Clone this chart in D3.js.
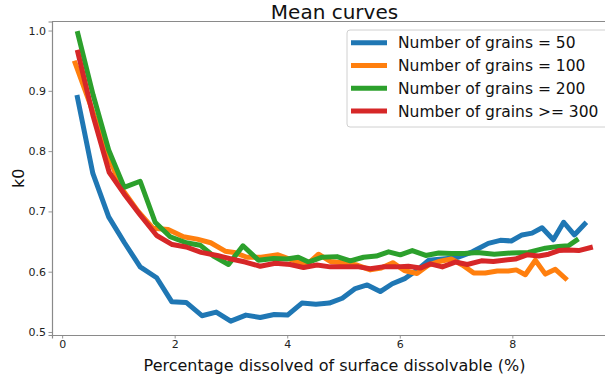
<!DOCTYPE html>
<html>
<head>
<meta charset="utf-8">
<script src="https://cdn.jsdelivr.net/npm/d3@7"></script>
<style>
  html, body { margin: 0; padding: 0; background: #fff; }
  svg { display: block; font-family: "DejaVu Sans", sans-serif; }
</style>
</head>
<body>
<svg id="chart" width="605" height="377"></svg>
<script>
// Percentage dissolved (x) and mean k0 (y) for each grain-count group
const pct50 = [0.272,0.546,0.827,1.108,1.387,1.680,1.950,2.204,2.484,2.738,2.996,3.266,3.520,3.769,4.005,4.261,4.510,4.747,4.978,5.209,5.422,5.653,5.867,6.098,6.311,6.516,6.756,7.004,7.289,7.573,7.787,7.982,8.172,8.350,8.528,8.729,8.912,9.102,9.285];
const k50   = [0.889,0.763,0.691,0.648,0.608,0.590,0.550,0.549,0.527,0.533,0.518,0.528,0.524,0.529,0.528,0.548,0.546,0.548,0.556,0.572,0.578,0.567,0.580,0.589,0.603,0.619,0.621,0.623,0.633,0.647,0.652,0.651,0.661,0.664,0.673,0.653,0.682,0.661,0.679];

const pct100 = [0.231,0.498,0.782,1.067,1.351,1.618,1.884,2.156,2.400,2.640,2.898,3.058,3.284,3.538,3.836,4.098,4.338,4.556,4.764,4.987,5.239,5.476,5.671,5.876,6.080,6.306,6.512,6.702,6.916,7.111,7.312,7.520,7.733,7.929,8.071,8.231,8.409,8.587,8.764,8.942];
const k100   = [0.946,0.878,0.800,0.737,0.700,0.672,0.670,0.658,0.654,0.648,0.634,0.632,0.624,0.624,0.628,0.619,0.611,0.629,0.617,0.615,0.611,0.603,0.606,0.615,0.602,0.597,0.611,0.617,0.621,0.611,0.598,0.598,0.601,0.601,0.603,0.595,0.619,0.596,0.604,0.589];

const pct200 = [0.279,0.551,0.827,1.102,1.387,1.653,1.920,2.204,2.453,2.690,2.956,3.213,3.490,3.756,3.995,4.196,4.379,4.622,4.884,5.120,5.356,5.582,5.801,6.009,6.222,6.462,6.693,6.916,7.147,7.378,7.680,7.982,8.284,8.587,8.818,8.996,9.138];
const k200   = [0.995,0.893,0.802,0.740,0.750,0.682,0.658,0.648,0.644,0.626,0.612,0.643,0.619,0.622,0.621,0.624,0.616,0.624,0.625,0.618,0.624,0.626,0.633,0.628,0.635,0.627,0.631,0.630,0.630,0.632,0.629,0.631,0.632,0.639,0.642,0.643,0.652];

const pct300 = [0.279,0.551,0.836,1.102,1.387,1.680,1.956,2.204,2.471,2.756,3.004,3.253,3.520,3.787,4.053,4.290,4.528,4.764,5.031,5.268,5.476,5.698,5.938,6.151,6.364,6.542,6.756,6.987,7.200,7.449,7.662,7.845,8.053,8.261,8.468,8.645,8.823,9.001,9.179,9.387];
const k300   = [0.964,0.858,0.765,0.729,0.694,0.660,0.645,0.641,0.632,0.627,0.621,0.616,0.609,0.614,0.612,0.607,0.611,0.608,0.608,0.608,0.605,0.608,0.608,0.609,0.606,0.613,0.608,0.616,0.612,0.618,0.617,0.619,0.621,0.628,0.626,0.629,0.635,0.636,0.635,0.640];

const seriesNames  = ["Number of grains = 50", "Number of grains = 100", "Number of grains = 200", "Number of grains >= 300"];
const seriesColors = ["#1f77b4", "#ff7f0e", "#2ca02c", "#d62728"];
const xTicks = [0, 2, 4, 6, 8];
const yTicks = [0.5, 0.6, 0.7, 0.8, 0.9, 1.0];

const series = [
  { name: seriesNames[0], color: seriesColors[0], xs: pct50,  ys: k50 },
  { name: seriesNames[1], color: seriesColors[1], xs: pct100, ys: k100 },
  { name: seriesNames[2], color: seriesColors[2], xs: pct200, ys: k200 },
  { name: seriesNames[3], color: seriesColors[3], xs: pct300, ys: k300 }
];

const svg = d3.select("#chart");
const plot = { left: 52, top: 21.5, right: 617, bottom: 335 };

const x = d3.scaleLinear().domain([-0.18, 9.86]).range([plot.left, plot.right]);
const y = d3.scaleLinear().domain([0.495, 1.015]).range([plot.bottom, plot.top]);

const axisColor = "#8a8a8a";

// axes frame (top and left/bottom spines)
svg.append("line").attr("x1", plot.left).attr("x2", plot.right)
  .attr("y1", plot.top).attr("y2", plot.top)
  .attr("stroke", axisColor).attr("stroke-width", 1.2);

const xAxis = svg.append("g")
  .attr("transform", `translate(0,${plot.bottom})`)
  .call(d3.axisBottom(x).tickValues(xTicks).tickFormat(d3.format("d")).tickSize(3.5).tickPadding(2));
const yAxis = svg.append("g")
  .attr("transform", `translate(${plot.left},0)`)
  .call(d3.axisLeft(y).tickValues(yTicks).tickFormat(d3.format(".1f")).tickSize(3.5).tickPadding(2.5));

[xAxis, yAxis].forEach(g => {
  g.select(".domain").attr("stroke", axisColor).attr("stroke-width", 1.2);
  g.selectAll(".tick line").attr("stroke", axisColor).attr("stroke-width", 0.9);
  g.selectAll(".tick text").attr("fill", "#222").style("font-size", "11px")
    .style("font-family", "'DejaVu Sans', sans-serif");
});

// curves
const clip = svg.append("clipPath").attr("id", "plot-clip")
  .append("rect").attr("x", plot.left).attr("y", plot.top)
  .attr("width", plot.right - plot.left).attr("height", plot.bottom - plot.top);

const line = d3.line().x(d => x(d[0])).y(d => y(d[1]));
const curves = svg.append("g").attr("clip-path", "url(#plot-clip)");
series.forEach(s => {
  curves.append("path")
    .datum(d3.zip(s.xs, s.ys))
    .attr("d", line)
    .attr("fill", "none")
    .attr("stroke", s.color)
    .attr("stroke-width", 5)
    .attr("stroke-linejoin", "round")
    .attr("stroke-linecap", "square");
});

// title and axis labels
svg.append("text").attr("x", (plot.left + plot.right) / 2).attr("y", 19)
  .attr("text-anchor", "middle").style("font-size", "20px").attr("fill", "#111")
  .text("Mean curves");
svg.append("text").attr("x", (plot.left + plot.right) / 2).attr("y", 371)
  .attr("text-anchor", "middle").style("font-size", "16px").attr("fill", "#111")
  .text("Percentage dissolved of surface dissolvable (%)");
svg.append("text")
  .attr("transform", `translate(24,${(plot.top + plot.bottom) / 2}) rotate(-90)`)
  .attr("text-anchor", "middle").style("font-size", "16px").attr("fill", "#111")
  .text("k0");

// legend
const legend = svg.append("g").attr("transform", "translate(347,30)");
legend.append("rect").attr("x", 0).attr("y", 0).attr("width", 275).attr("height", 97)
  .attr("rx", 3).attr("fill", "#fff").attr("fill-opacity", 0.8)
  .attr("stroke", "#d0d0d0").attr("stroke-width", 1);
series.forEach((s, i) => {
  const yy = 12.7 + i * 22.8;
  legend.append("line").attr("x1", 4).attr("x2", 40).attr("y1", yy).attr("y2", yy)
    .attr("stroke", s.color).attr("stroke-width", 5);
  legend.append("text").attr("x", 51).attr("y", yy).attr("dy", "0.36em")
    .style("font-size", "15.5px").attr("fill", "#111").text(s.name);
});
</script>
</body>
</html>
